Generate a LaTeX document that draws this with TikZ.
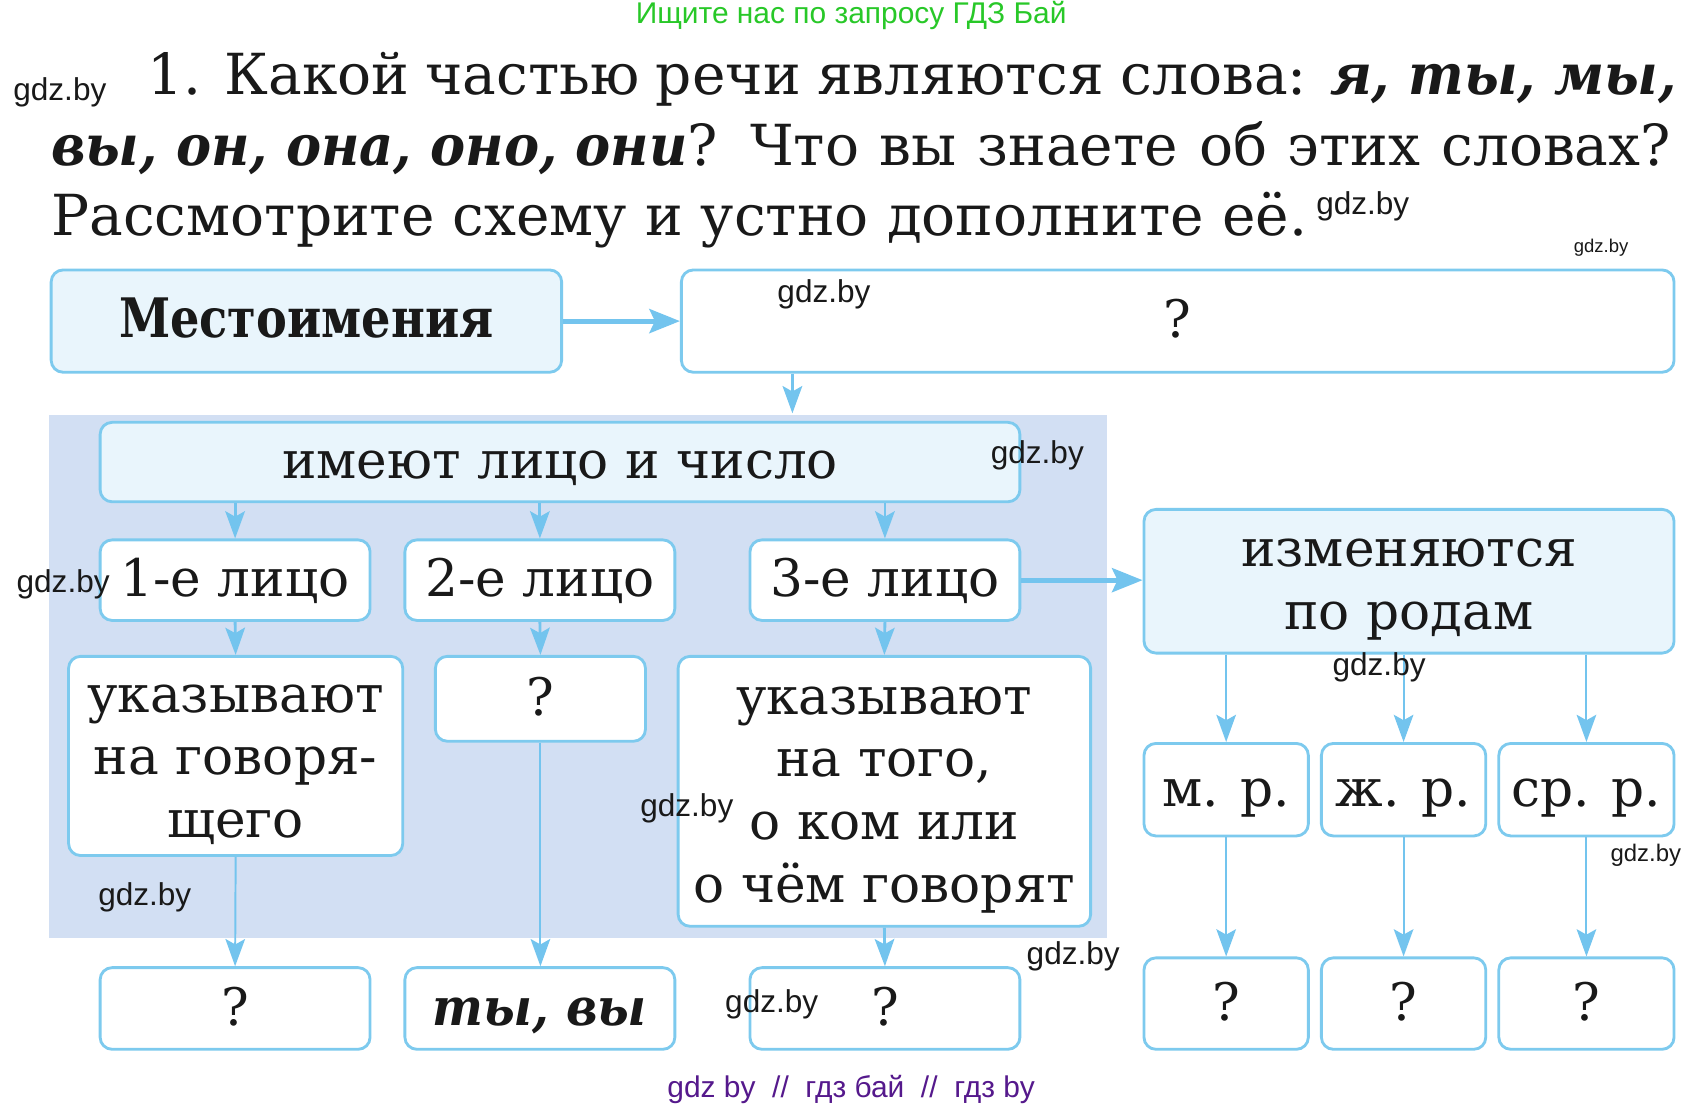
\documentclass[tikz,border=0pt]{standalone}
\usepackage{fontspec}
\setmainfont{DejaVu Serif}
\newfontfamily\wmfont{Liberation Sans}
\usetikzlibrary{arrows.meta}
\definecolor{bord}{RGB}{125,202,238}
\definecolor{arrc}{RGB}{115,196,238}
\definecolor{lightfill}{RGB}{233,245,252}
\definecolor{regionc}{RGB}{210,223,243}
\definecolor{greentxt}{RGB}{40,200,40}
\definecolor{purptxt}{RGB}{85,25,140}
\definecolor{ink}{RGB}{25,25,25}
\newcommand\mytitlefont{\fontsize{52}{62}\selectfont}
\newcommand\myboxfont{\fontsize{47.5}{57.5}\selectfont}
\newcommand\bi[1]{\scalebox{0.93}[1]{\textbf{\textit{#1}}}}
\newcommand\fstr{\rule{0pt}{41pt}}
\tikzset{
  x=1pt, y=-1pt,
  bxm/.style={draw=bord, line width=2.6pt, rounded corners=11pt, fill=white,
    inner sep=0pt, font=\myboxfont, text=ink, align=center},
  bx/.style={bxm, text height=30.6pt, text depth=0pt},
  bxl/.style={bx, fill=lightfill},
  bxml/.style={bxm, fill=lightfill},
  arr/.style={draw=arrc, line width=2.6pt,
    -{Stealth[length=25pt,width=18pt,inset=5pt]}},
  thinarr/.style={arr, line width=1.8pt},
  bigarr/.style={draw=arrc, line width=4.5pt,
    -{Stealth[length=28pt,width=22pt,inset=5pt]}},
  wm/.style={font=\wmfont\fontsize{29}{30}\selectfont, text=ink, inner sep=0pt},
  wms/.style={font=\wmfont\fontsize{17}{18}\selectfont, text=ink, inner sep=0pt},
  ttl/.style={anchor=base west, inner sep=0pt, font=\mytitlefont, text=ink}
}
\begin{document}
\begin{tikzpicture}
\useasboundingbox[fill=white] (0,0) rectangle (1560,1015);

% header
\node[font=\wmfont\fontsize{27.5}{29}\selectfont, text=greentxt, inner sep=0pt] (hdr) at (782,14) {Ищите нас по запросу ГДЗ Бай};

% title
\node[ttl] (t1) at (135,87) {\makebox[1405pt][s]{1. Какой частью речи являются слова: \bi{я, ты, мы,}}};
\node[ttl] (t2) at (47,152) {\makebox[1488pt][s]{\bi{вы, он, она, оно, они}? Что вы знаете об этих словах?}};
\node[ttl] (t3) at (47,216) {Рассмотрите схему и устно дополните её.};

% shaded region
\fill[regionc] (45,381) rectangle (1017,862);

% boxes
\node[bxl, minimum width=469pt, minimum height=94pt] (mest) at (281.5,295) {\scalebox{0.85}[1]{\fontsize{50}{50}\selectfont\bfseries Местоимения}};
\node[bx, minimum width=912pt, minimum height=94pt] (q1) at (1082,295) {?};
\node[bxl, minimum width=845pt, minimum height=73pt] (imeyut) at (514.5,424.5) {имеют лицо и число};
\node[bx, minimum width=248pt, minimum height=74pt] (p1) at (216,533) {1-е лицо};
\node[bx, minimum width=248pt, minimum height=74pt] (p2) at (496,533) {2-е лицо};
\node[bx, minimum width=248pt, minimum height=74pt] (p3) at (813,533) {3-е лицо};
\node[bxml, minimum width=487pt, minimum height=132pt] (izm) at (1294.5,534) {\fstr изменяются\\по родам};
\node[bxm, minimum width=307pt, minimum height=183pt] (u1) at (216.5,694.5) {\fstr указывают\\на говоря-\\щего};
\node[bx, minimum width=193pt, minimum height=78pt] (q2) at (496.5,642) {?};
\node[bxm, minimum width=379pt, minimum height=248pt] (u3) at (812.5,727) {\fstr указывают\\на того,\\о ком или\\о чём говорят};
\node[bx, minimum width=248pt, minimum height=75pt] (b1) at (216,926.5) {?};
\node[bx, minimum width=248pt, minimum height=75pt] (b2) at (496,926.5) {\bi{ты, вы}};
\node[bx, minimum width=248pt, minimum height=75pt] (b3) at (813,926.5) {?};
\node[bx, minimum width=151pt, minimum height=85pt] (mr) at (1126.5,725.5) {м. р.};
\node[bx, minimum width=151pt, minimum height=85pt] (zr) at (1289.5,725.5) {ж. р.};
\node[bx, minimum width=161pt, minimum height=85pt] (sr) at (1457.5,725.5) {ср. р.};
\node[bx, minimum width=151pt, minimum height=84pt] (g1) at (1126.5,922) {?};
\node[bx, minimum width=151pt, minimum height=84pt] (g2) at (1289.5,922) {?};
\node[bx, minimum width=161pt, minimum height=84pt] (g3) at (1457.5,922) {?};

% connectors
\coordinate (c728) at (728,0);
\draw[bigarr] (mest.east) -- (q1.west);
\draw[arr] (q1.south -| c728) -- ([yshift=7pt]imeyut.north -| c728);
\draw[arr] (imeyut.south -| p1.north) -- (p1.north);
\draw[arr] (imeyut.south -| p2.north) -- (p2.north);
\draw[arr] (imeyut.south -| p3.north) -- (p3.north);
\draw[bigarr] (p3.east) -- (p3.east -| izm.west);
\draw[arr] (p1.south) -- (u1.north);
\draw[arr] (p2.south) -- (q2.north);
\draw[arr] (p3.south) -- (u3.north);
\draw[thinarr] (u1.south) -- (b1.north);
\draw[thinarr] (q2.south) -- (q2.south |- b2.north);
\draw[arr] (u3.south) -- (b3.north);
\draw[thinarr] (izm.south -| mr.north) -- (mr.north);
\draw[thinarr] (izm.south -| zr.north) -- (zr.north);
\draw[thinarr] (izm.south -| sr.north) -- (sr.north);
\draw[thinarr] (mr.south) -- (g1.north);
\draw[thinarr] (zr.south) -- (g2.north);
\draw[thinarr] (sr.south) -- (g3.north);

% watermarks
\node[wm] (w1) at (55,85) {gdz.by};
\node[wm] (w2) at (1252,190) {gdz.by};
\node[wms] (w3) at (1471,228) {gdz.by};
\node[wm] (w4) at (757,270) {gdz.by};
\node[wm] (w5) at (953,418) {gdz.by};
\node[wm] (w6) at (58,537) {gdz.by};
\node[wm] (w7) at (1267,613) {gdz.by};
\node[wm] (w8) at (631,743) {gdz.by};
\node[wm] (w9) at (133,824) {gdz.by};
\node[wm] (w10) at (709,923) {gdz.by};
\node[wm] (w11) at (986,879) {gdz.by};
\node[wm, font=\wmfont\fontsize{22}{24}\selectfont] (w12) at (1512,786) {gdz.by};

% footer
\node[font=\wmfont\fontsize{27.5}{29}\selectfont, text=purptxt, inner sep=0pt] (ftr) at (782,1001) {gdz by \ // \ гдз бай \ // \ гдз by};
\end{tikzpicture}
\end{document}
